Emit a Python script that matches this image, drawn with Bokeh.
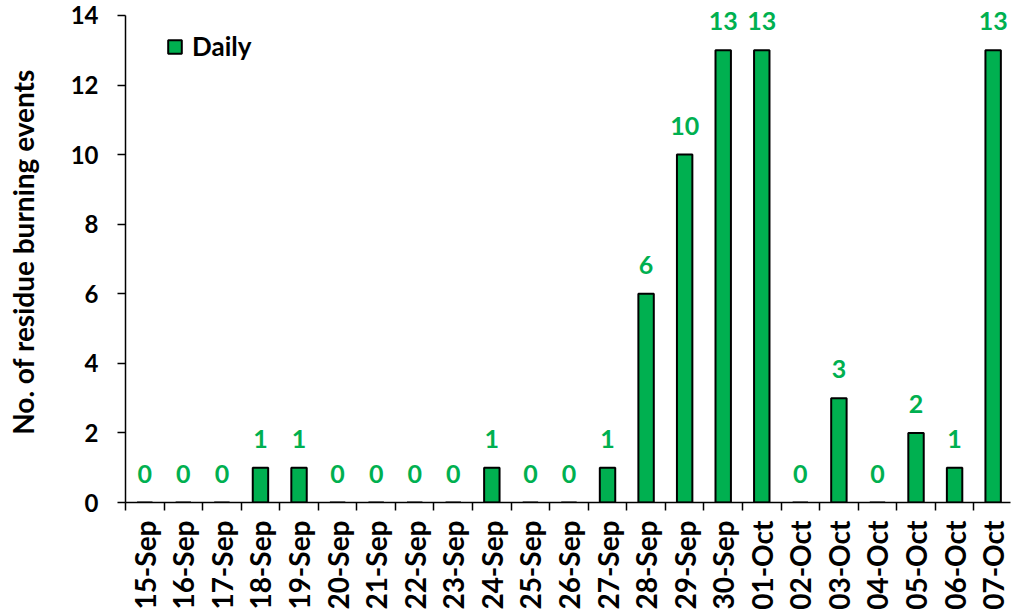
from bokeh.plotting import figure
from bokeh.models import Range1d, FixedTicker, ColumnDataSource, Legend, LegendItem
from bokeh.core.properties import value
from bokeh.embed import file_html
from bokeh.resources import INLINE
from math import pi

dates = ["15-Sep", "16-Sep", "17-Sep", "18-Sep", "19-Sep", "20-Sep", "21-Sep", "22-Sep",
         "23-Sep", "24-Sep", "25-Sep", "26-Sep", "27-Sep", "28-Sep", "29-Sep", "30-Sep",
         "01-Oct", "02-Oct", "03-Oct", "04-Oct", "05-Oct", "06-Oct", "07-Oct"]
daily = [0, 0, 0, 1, 1, 0, 0, 0, 0, 1, 0, 0, 1, 6, 10, 13, 13, 0, 3, 0, 2, 1, 13]
y_ticks = [0, 2, 4, 6, 8, 10, 12, 14]

GREEN = "#00B050"
FONT = "Lato"

xs = list(range(len(dates)))
src = ColumnDataSource(dict(x=xs, y=daily, t=[str(v) for v in daily]))

p = figure(width=1011, height=612, output_backend="svg", toolbar_location=None,
           x_range=Range1d(-0.5, 22.45), y_range=Range1d(0, 14.40),
           min_border_left=125, min_border_top=1, min_border_right=1, min_border_bottom=109)
p.outline_line_color = None
p.xgrid.grid_line_color = None
p.ygrid.grid_line_color = None
p.background_fill_color = "white"

bars = p.vbar(x="x", top="y", width=0.4, source=src, fill_color=GREEN,
              line_color="black", line_width=2)
p.text(x="x", y="y", text="t", source=src, text_align="center", text_baseline="alphabetic",
       y_offset=-29, text_color=GREEN, text_font_size="25px", text_font_style="bold",
       text_font=value(FONT))

# x axis
p.xaxis.ticker = FixedTicker(ticks=xs, minor_ticks=[i - 0.5 for i in range(len(dates) + 1)])
p.xaxis.major_label_overrides = {i: d for i, d in enumerate(dates)}
p.xaxis.major_label_orientation = pi / 2
p.xaxis.major_tick_line_color = None
p.xaxis.minor_tick_line_color = "black"
p.xaxis.minor_tick_line_width = 1.5
p.xaxis.minor_tick_in = 0
p.xaxis.minor_tick_out = 8
p.xaxis.major_label_standoff = 10
p.xaxis.axis_line_width = 1.5
p.xaxis.major_label_text_font = FONT
p.xaxis.major_label_text_font_style = "bold"
p.xaxis.major_label_text_font_size = "28px"
p.xaxis.major_label_text_color = "black"

# y axis
p.yaxis.ticker = FixedTicker(ticks=y_ticks)
p.yaxis.bounds = (0, 14)
p.yaxis.minor_tick_line_color = None
p.yaxis.major_tick_in = 0
p.yaxis.major_tick_out = 8
p.yaxis.major_tick_line_width = 1.5
p.yaxis.axis_line_width = 1.5
p.yaxis.major_label_standoff = 19
p.yaxis.major_label_text_font = FONT
p.yaxis.major_label_text_font_style = "bold"
p.yaxis.major_label_text_font_size = "24px"
p.yaxis.major_label_text_color = "black"
p.yaxis.axis_label = "No. of residue burning events"
p.yaxis.axis_label_text_font = FONT
p.yaxis.axis_label_text_font_style = "bold"
p.yaxis.axis_label_text_font_size = "28px"
p.yaxis.axis_label_text_color = "black"
p.yaxis.axis_label_standoff = 28

legend = Legend(items=[LegendItem(label="Daily", renderers=[bars])],
                location=(41, 440), orientation="vertical")
legend.border_line_color = None
legend.background_fill_alpha = 0
legend.padding = 0
legend.margin = 0
legend.glyph_width = 17
legend.glyph_height = 17
legend.label_standoff = 9
legend.label_text_font = FONT
legend.label_text_font_style = "bold"
legend.label_text_font_size = "26px"
legend.label_text_color = "black"
p.add_layout(legend, "center")

open("out.html", "w").write(file_html(p, INLINE))
